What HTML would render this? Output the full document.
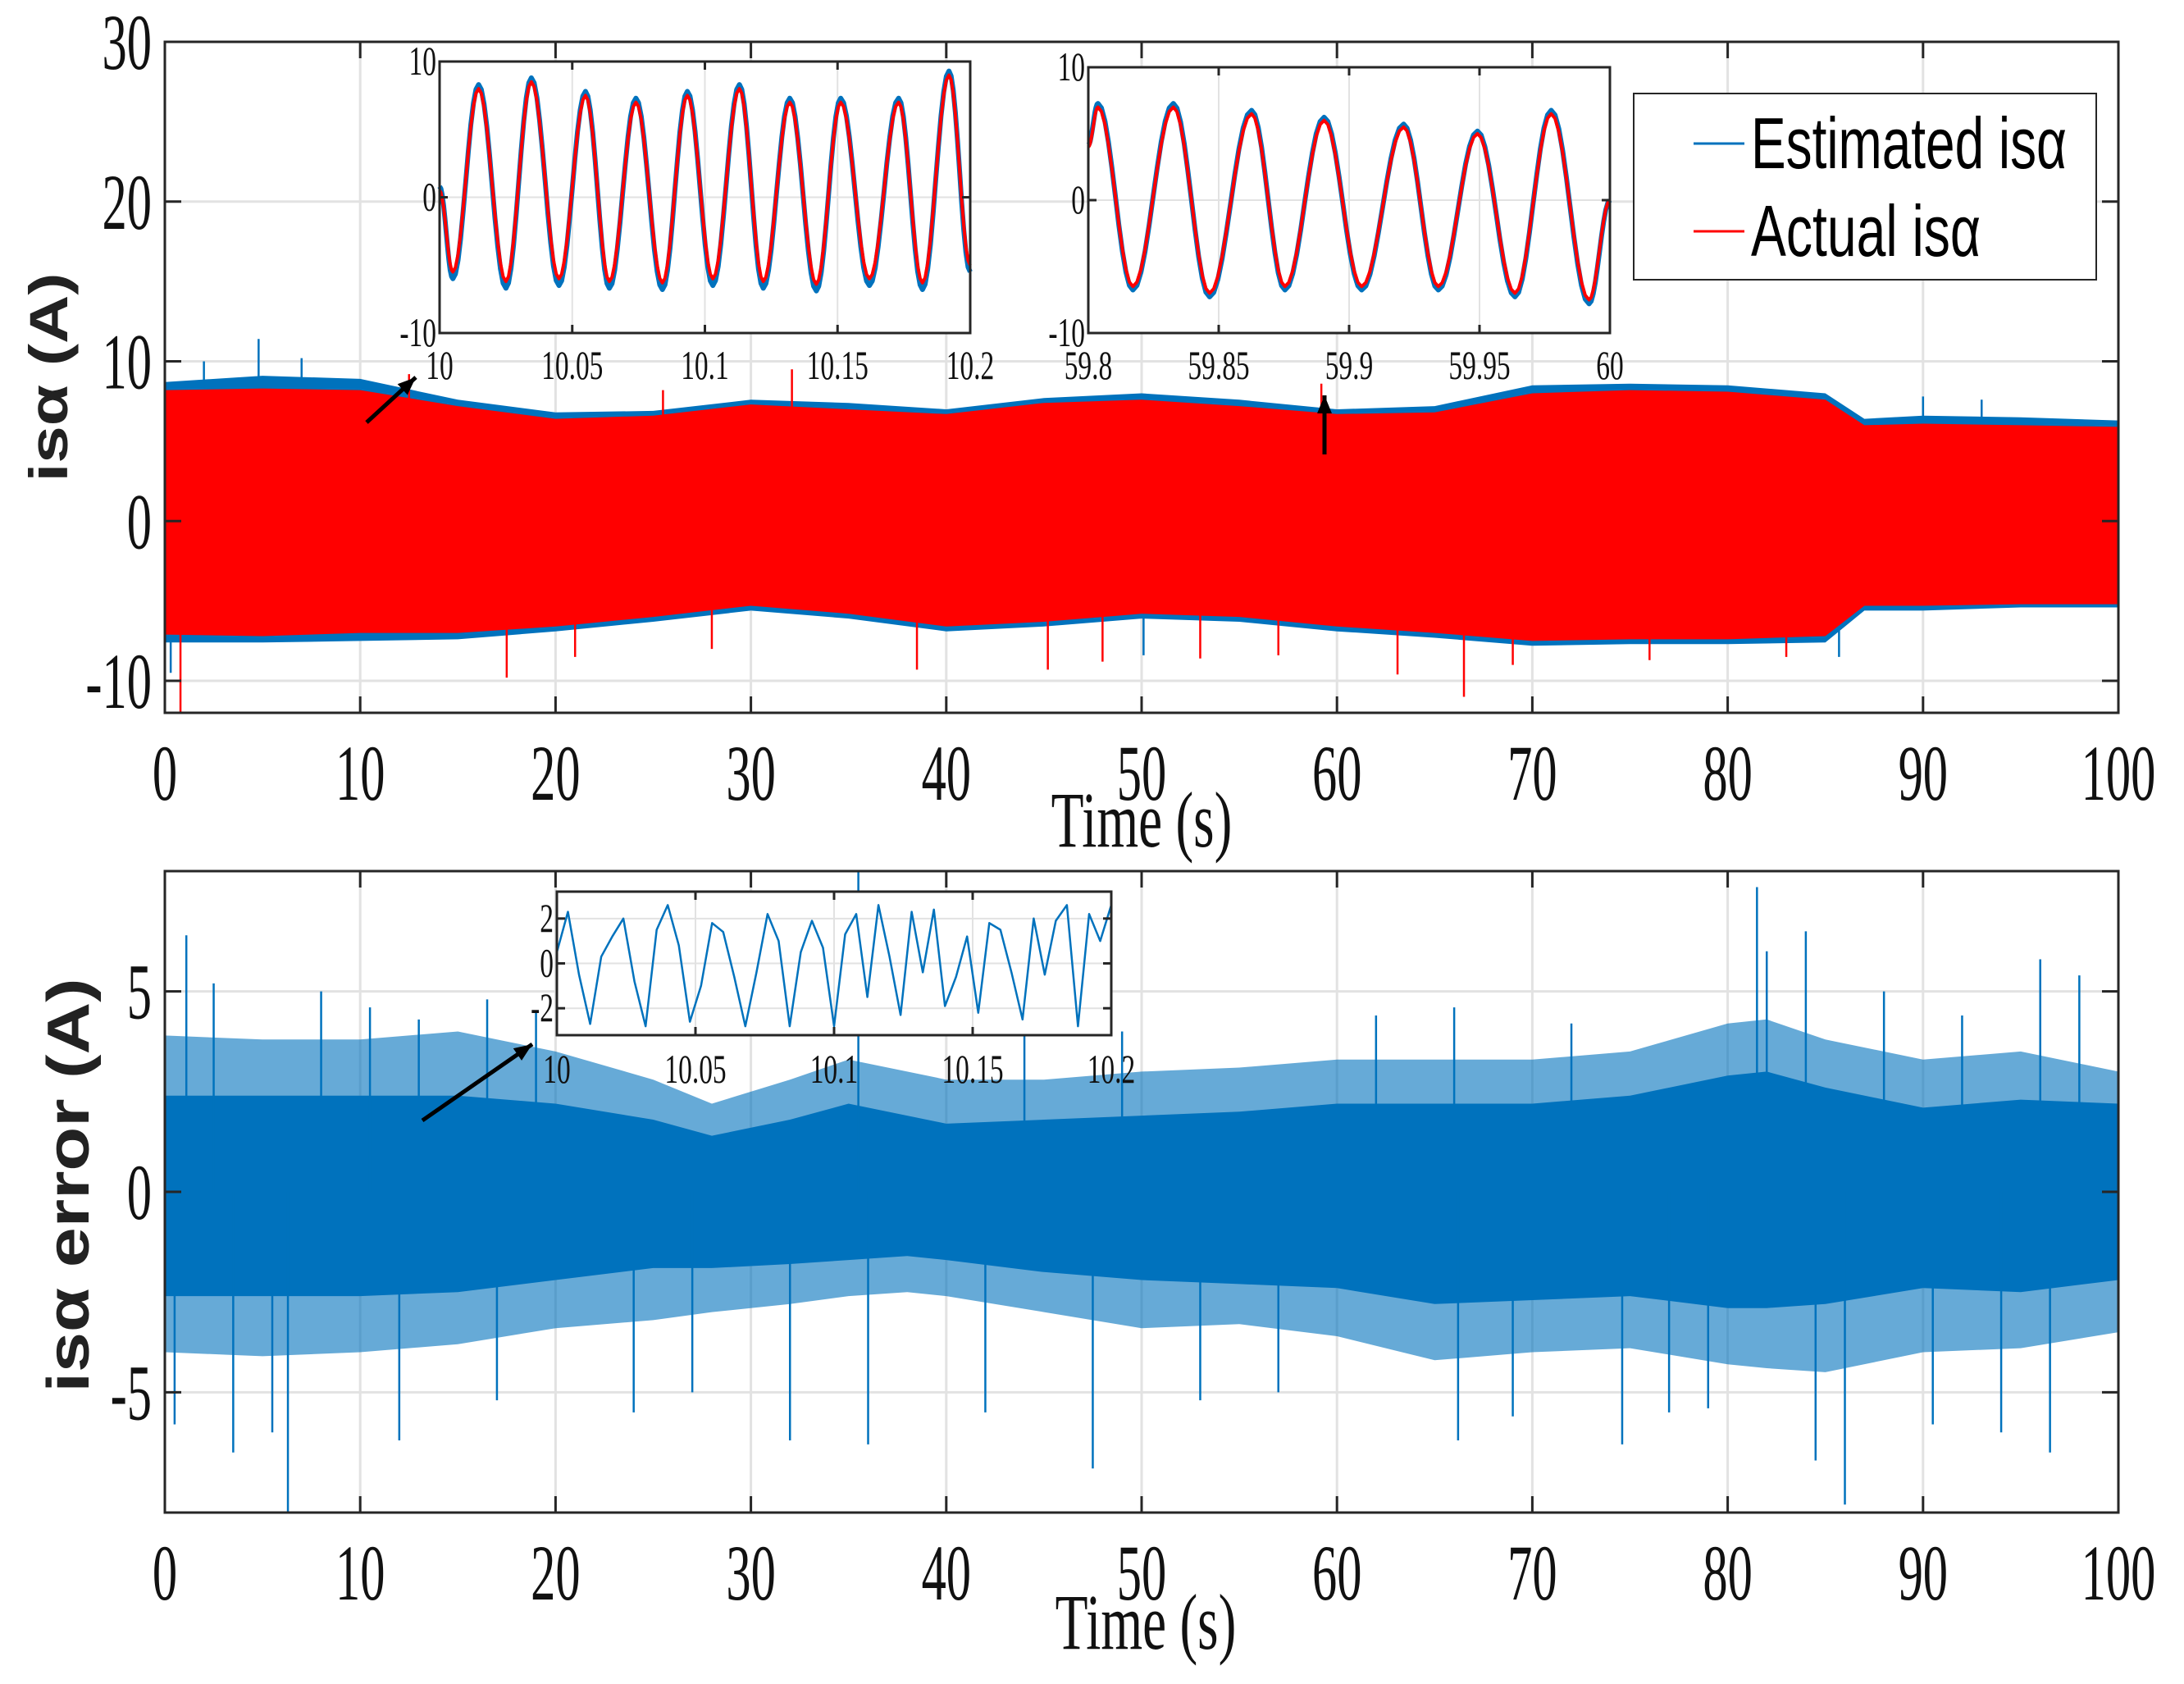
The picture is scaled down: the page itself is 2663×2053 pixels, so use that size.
<!DOCTYPE html>
<html><head><meta charset="utf-8"><style>
html,body{margin:0;padding:0;background:#fff;}
svg{display:block;}
</style></head><body>
<svg id="chart" xmlns="http://www.w3.org/2000/svg" width="2663" height="2053" viewBox="0 0 2663 2053">
<rect width="2663" height="2053" fill="#fff"/>
<g id="topPlot"></g>
<g id="botPlot"></g>
</svg>
<script>
// ---------- data ----------
const xTicks = [0,10,20,30,40,50,60,70,80,90,100];
const topYTicks = [-10,0,10,20,30];
const botYTicks = [-5,0,5];
const topEnvT = [0,5,10,15,20,25,30,35,40,45,50,55,60,65,70,75,80,85,87,90,95,100];
const redUpper = [8.2,8.3,8.2,7.2,6.4,6.6,7.3,7.0,6.7,7.4,7.6,7.2,6.7,6.8,8.0,8.2,8.1,7.6,6.0,6.1,6.0,5.9];
const redLower = [-7.1,-7.2,-7.0,-7.0,-6.6,-6.0,-5.3,-5.8,-6.6,-6.3,-5.8,-6.0,-6.6,-7.0,-7.5,-7.4,-7.4,-7.2,-5.3,-5.3,-5.2,-5.2];
const blueUpper = [8.7,9.1,8.9,7.6,6.8,6.9,7.6,7.4,7.0,7.7,8.0,7.6,7.0,7.2,8.5,8.6,8.5,8.0,6.4,6.6,6.5,6.3];
const blueLower = [-7.6,-7.6,-7.5,-7.4,-6.9,-6.3,-5.6,-6.1,-6.9,-6.6,-6.1,-6.3,-6.9,-7.3,-7.8,-7.7,-7.7,-7.6,-5.6,-5.6,-5.4,-5.4];
const redSpikeT = [0.8,17.5,38.5,45.2,63.1,66.5,32.1,59.2,12.5,25.5,53,21,28,48,57,69,76,83];
const redSpikeV = [-12,-9.8,-9.3,-9.3,-9.6,-11,9.5,8.6,9.2,8.2,-8.6,-8.5,-8.0,-8.8,-8.4,-9.0,-8.7,-8.5];
const blueSpikeT = [4.8,0.3,85.7,50.1,7,2,90,93];
const blueSpikeV = [11.4,-9.5,-8.5,-8.4,10.2,10.0,7.8,7.6];
const in1T = [10.0,10.005,10.0147,10.025,10.0346,10.045,10.055,10.064,10.074,10.084,10.0934,10.103,10.113,10.122,10.132,10.142,10.1512,10.162,10.173,10.182,10.192,10.2];
const in1V = [0.5,-5.5,8.0,-6.2,8.5,-6.0,7.5,-6.2,7.0,-6.3,7.5,-6.0,8.0,-6.2,7.0,-6.4,7.0,-6.0,7.0,-6.3,9.0,-5.0];
const in2T = [59.8,59.8037,59.8171,59.8326,59.8465,59.8626,59.8754,59.8904,59.9048,59.9209,59.9342,59.9492,59.9636,59.9775,59.992,60.0];
const in2V = [4.0,7.0,-6.5,7.0,-7.0,6.5,-6.5,6.0,-6.5,5.5,-6.5,5.0,-7.0,6.5,-7.5,0.0];
const botEnvT = [0,5,10,15,20,25,28,32,35,38,40,45,50,55,60,65,70,75,80,82,85,90,95,100];
const coreUpper = [2.4,2.4,2.4,2.4,2.2,1.8,1.4,1.8,2.2,1.9,1.7,1.8,1.9,2.0,2.2,2.2,2.2,2.4,2.9,3.0,2.6,2.1,2.3,2.2];
const coreLower = [-2.6,-2.6,-2.6,-2.5,-2.2,-1.9,-1.9,-1.8,-1.7,-1.6,-1.7,-2.0,-2.2,-2.3,-2.4,-2.8,-2.7,-2.6,-2.9,-2.9,-2.8,-2.4,-2.5,-2.2];
const fringeUpper = [3.9,3.8,3.8,4.0,3.5,2.8,2.2,2.8,3.3,3.0,2.8,2.8,3.0,3.1,3.3,3.3,3.3,3.5,4.2,4.3,3.8,3.3,3.5,3.0];
const fringeLower = [-4.0,-4.1,-4.0,-3.8,-3.4,-3.2,-3.0,-2.8,-2.6,-2.5,-2.6,-3.0,-3.4,-3.3,-3.6,-4.2,-4.0,-3.9,-4.3,-4.4,-4.5,-4.0,-3.9,-3.5];
const errSpikeT = [1.1,8.0,13.0,19.0,35.5,49.0,66.0,81.5,82.0,84.0,96.0,6.3,3.5,12.0,24.0,32.0,36.0,47.5,66.2,74.6,86.0,84.5,96.5,77.0,42.0,57.0,0.5,2.5,10.5,16.5,44,62,72,88,92,98,5.5,17,27,53,69,79,90.5,94];
const errSpikeV = [6.4,5.0,4.3,4.5,8.0,4.0,4.6,7.6,6.0,6.5,5.8,-8.0,-6.5,-6.2,-5.5,-6.2,-6.3,-6.9,-6.2,-6.3,-7.8,-6.7,-6.5,-5.5,-5.5,-5.0,-5.8,5.2,4.6,4.8,4.0,4.4,4.2,5.0,4.4,5.4,-6.0,-5.2,-5.0,-5.2,-5.6,-5.4,-5.8,-6.0];
const in3T = [10.0,10.004,10.008,10.012,10.016,10.02,10.024,10.028,10.032,10.036,10.04,10.044,10.048,10.052,10.056,10.06,10.064,10.068,10.072,10.076,10.08,10.084,10.088,10.092,10.096,10.1,10.104,10.108,10.112,10.116,10.12,10.124,10.128,10.132,10.136,10.14,10.144,10.148,10.152,10.156,10.16,10.164,10.168,10.172,10.176,10.18,10.184,10.188,10.192,10.196,10.2];
const in3V = [0.5,2.3,-0.5,-2.7,0.3,1.2,2.0,-0.8,-2.8,1.5,2.6,0.8,-2.6,-1.0,1.8,1.4,-0.6,-2.8,-0.4,2.2,1.0,-2.8,0.5,1.9,0.7,-2.8,1.3,2.2,-1.5,2.6,0.3,-2.3,2.3,-0.4,2.4,-1.9,-0.6,1.2,-2.2,1.8,1.5,-0.4,-2.5,2.0,-0.5,1.9,2.6,-2.8,2.2,1.0,2.6];

// ---------- helpers ----------
const NS='http://www.w3.org/2000/svg';
function mk(parent,tag,attrs){const e=document.createElementNS(NS,tag);for(const k in attrs)e.setAttribute(k,attrs[k]);parent.appendChild(e);return e;}
function scale(d0,d1,r0,r1){return v=>r0+(v-d0)/(d1-d0)*(r1-r0);}
function txt(parent,x,y,s,size,anchor,sx,family,weight){
  const t=mk(parent,'text',{x:0,y:0,'font-size':size,'text-anchor':anchor,'font-family':family||'"Liberation Serif", serif','font-weight':weight||'normal',fill:'#111',transform:`translate(${x},${y}) scale(${sx},1)`});
  t.textContent=s;return t;
}
function band(parent,T,U,L,xs,ys,color,op,name){
  let d='';
  T.forEach((t,i)=>{d+=(i?'L':'M')+xs(t).toFixed(1)+','+ys(U[i]).toFixed(1);});
  for(let i=T.length-1;i>=0;i--)d+='L'+xs(T[i]).toFixed(1)+','+ys(L[i]).toFixed(1);
  const p=mk(parent,'path',{d:d+'Z',fill:color,'fill-opacity':op});
  
  
}
function spikes(parent,T,V,xs,ys,color,name){
  T.forEach((t,i)=>{
    const l=mk(parent,'line',{x1:xs(t),x2:xs(t),y1:ys(0),y2:ys(V[i]),stroke:color,'stroke-width':2.5});
    
    
  });
}
function curve(parent,T,V,xs,ys,color,w,name){
  let d='';
  T.forEach((t,i)=>{d+=(i?'L':'M')+xs(t).toFixed(1)+','+ys(V[i]).toFixed(1);});
  const p=mk(parent,'path',{d:d,fill:'none',stroke:color,'stroke-width':w,'stroke-linejoin':'round'});
  
  
}
function smoothCurve(parent,T,V,xs,ys,color,w,name){
  let d='';
  for(let i=0;i<T.length-1;i++){
    for(let k=0;k<=10;k++){
      const f=k/10,g=(1-Math.cos(Math.PI*f))/2;
      const t=T[i]+(T[i+1]-T[i])*f, v=V[i]+(V[i+1]-V[i])*g;
      d+=(d?'L':'M')+xs(t).toFixed(1)+','+ys(v).toFixed(1);
    }
  }
  const p=mk(parent,'path',{d:d,fill:'none',stroke:color,'stroke-width':w,'stroke-linejoin':'round'});
  
  
}
function axesFrame(parent,x0,x1,y0,y1,xs,ys,xt,yt,gridW,name){
  xt.forEach(t=>{const l=mk(parent,'line',{x1:xs(t),x2:xs(t),y1:y0,y2:y1,stroke:'#e2e2e2','stroke-width':gridW});
    });
  yt.forEach(t=>{const l=mk(parent,'line',{x1:x0,x2:x1,y1:ys(t),y2:ys(t),stroke:'#e2e2e2','stroke-width':gridW});
    });
}
function frame(parent,x0,x1,y0,y1,xs,ys,xt,yt,tick,sw,name){
  const r=mk(parent,'rect',{x:x0,y:y0,width:x1-x0,height:y1-y0,fill:'none',stroke:'#262626','stroke-width':sw});
  
  xt.forEach(t=>{mk(parent,'line',{x1:xs(t),x2:xs(t),y1:y1,y2:y1-tick,stroke:'#262626','stroke-width':sw});
    mk(parent,'line',{x1:xs(t),x2:xs(t),y1:y0,y2:y0+tick,stroke:'#262626','stroke-width':sw});});
  yt.forEach(t=>{mk(parent,'line',{x1:x0,x2:x0+tick,y1:ys(t),y2:ys(t),stroke:'#262626','stroke-width':sw});
    mk(parent,'line',{x1:x1,x2:x1-tick,y1:ys(t),y2:ys(t),stroke:'#262626','stroke-width':sw});});
}
function arrow(parent,x1,y1,x2,y2,name){
  const g=mk(parent,'g',{});
  
  mk(g,'line',{x1:x1,y1:y1,x2:x2,y2:y2,stroke:'#000','stroke-width':5});
  const a=Math.atan2(y2-y1,x2-x1),L=22,W=9;
  const bx=x2-L*Math.cos(a),by=y2-L*Math.sin(a);
  mk(g,'polygon',{points:`${x2},${y2} ${bx-W*Math.sin(a)},${by+W*Math.cos(a)} ${bx+W*Math.sin(a)},${by-W*Math.cos(a)}`,fill:'#000'});
}

const BLUE='#0072BD', RED='#FF0000';
const topG=document.getElementById('topPlot'), botG=document.getElementById('botPlot');

// ---------- top plot ----------
{
  const X0=201,X1=2583,Y0=51,Y1=869;
  const xs=scale(0,100,X0,X1), ys=scale(-12,30,Y1,Y0);
  axesFrame(topG,X0,X1,Y0,Y1,xs,ys,xTicks,topYTicks,3,'top');
  const d=mk(topG,'g',{});
  band(d,topEnvT,blueUpper,blueLower,xs,ys,BLUE,1,'estimated-isa-band');
  spikes(d,blueSpikeT,blueSpikeV,xs,ys,BLUE,'estimated-isa-spike');
  band(d,topEnvT,redUpper,redLower,xs,ys,RED,1,'actual-isa-band');
  spikes(d,redSpikeT,redSpikeV,xs,ys,RED,'actual-isa-spike');
  frame(topG,X0,X1,Y0,Y1,xs,ys,xTicks,topYTicks,20,3,'top');
  xTicks.forEach(t=>{const e=txt(topG,xs(t),975,String(t),96,'middle',0.63);});
  topYTicks.forEach(t=>{const e=txt(topG,185,ys(t)+33,String(t),96,'end',0.63);});
  const xl=txt(topG,1392,1032,'Time (s)',96,'middle',0.68);
  const yl=mk(topG,'text',{x:0,y:0,'font-size':66,'font-weight':'bold','font-family':'"Liberation Sans", sans-serif','text-anchor':'middle',fill:'#222',textLength:255,lengthAdjust:'spacingAndGlyphs',transform:'translate(82,460) rotate(-90)'});
  yl.textContent='isα (A)';

  const g1=mk(topG,'g',{});
  const a0=536,a1=1183,b0=75,b1=406;
  mk(g1,'rect',{x:a0,y:b0,width:a1-a0,height:b1-b0,fill:'#fff'});
  const ix=scale(10,10.2,a0,a1), iy=scale(-10,10,b1,b0);
  const it1=[10,10.05,10.1,10.15,10.2], iyt=[-10,0,10];
  axesFrame(g1,a0,a1,b0,b1,ix,iy,it1,iyt,2,'inset1');
  smoothCurve(g1,in1T,in1V.map(v=>v>0?v+0.3:v-0.5),ix,iy,BLUE,6,'inset1-estimated');
  smoothCurve(g1,in1T,in1V,ix,iy,RED,4,'inset1-actual');
  frame(g1,a0,a1,b0,b1,ix,iy,it1,iyt,10,3,'inset1');
  ['10','10.05','10.1','10.15','10.2'].forEach((s,i)=>{const e=txt(g1,ix(it1[i]),462,s,50,'middle',0.67);});
  iyt.forEach(t=>{const e=txt(g1,a0-4,iy(t)+16,String(t),50,'end',0.67);});

  const g2=mk(topG,'g',{});
  const c0=1327,c1=1963,e0=82,e1=406;
  mk(g2,'rect',{x:c0,y:e0,width:c1-c0,height:e1-e0,fill:'#fff'});
  const jx=scale(59.8,60,c0,c1), jy=scale(-10,10,e1,e0);
  const it2=[59.8,59.85,59.9,59.95,60];
  axesFrame(g2,c0,c1,e0,e1,jx,jy,it2,iyt,2,'inset2');
  smoothCurve(g2,in2T,in2V.map(v=>v*1.04),jx,jy,BLUE,6,'inset2-estimated');
  smoothCurve(g2,in2T,in2V,jx,jy,RED,4,'inset2-actual');
  frame(g2,c0,c1,e0,e1,jx,jy,it2,iyt,10,3,'inset2');
  ['59.8','59.85','59.9','59.95','60'].forEach((s,i)=>{const e=txt(g2,jx(it2[i]),462,s,50,'middle',0.67);});
  iyt.forEach(t=>{const e=txt(g2,c0-4,jy(t)+16,String(t),50,'end',0.67);});

  const lg=mk(topG,'g',{});
  mk(lg,'rect',{x:1992,y:114,width:564,height:227,fill:'#fff',stroke:'#262626','stroke-width':2});
  const e1g=mk(lg,'g',{});
  mk(e1g,'line',{x1:2065,x2:2127,y1:175,y2:175,stroke:BLUE,'stroke-width':3});
  const t1=mk(e1g,'text',{x:2135,y:205,'font-size':88,'font-family':'"Liberation Sans", sans-serif',fill:'#000',textLength:385,lengthAdjust:'spacingAndGlyphs'});t1.textContent='Estimated isα';
  const e2g=mk(lg,'g',{});
  mk(e2g,'line',{x1:2065,x2:2127,y1:282,y2:282,stroke:RED,'stroke-width':3});
  const t2=mk(e2g,'text',{x:2135,y:312,'font-size':88,'font-family':'"Liberation Sans", sans-serif',fill:'#000',textLength:280,lengthAdjust:'spacingAndGlyphs'});t2.textContent='Actual isα';

  arrow(topG,447,515,507,460,'arrow-to-inset1');
  arrow(topG,1615,554,1615,482,'arrow-to-inset2');
}

// ---------- bottom plot ----------
{
  const X0=201,X1=2583,Y0=1062,Y1=1844;
  const xs=scale(0,100,X0,X1), ys=scale(-8,8,Y1,Y0);
  axesFrame(botG,X0,X1,Y0,Y1,xs,ys,xTicks,botYTicks,3,'bottom');
  const d=mk(botG,'g',{});
  band(d,botEnvT,fringeUpper,fringeLower,xs,ys,BLUE,0.6,'error-fringe-band');
  band(d,botEnvT,coreUpper,coreLower,xs,ys,BLUE,1,'error-core-band');
  spikes(d,errSpikeT,errSpikeV,xs,ys,BLUE,'error-spike');
  frame(botG,X0,X1,Y0,Y1,xs,ys,xTicks,botYTicks,20,3,'bottom');
  xTicks.forEach(t=>{const e=txt(botG,xs(t),1950,String(t),96,'middle',0.63);});
  botYTicks.forEach(t=>{const e=txt(botG,185,ys(t)+33,String(t),96,'end',0.63);});
  const xl=txt(botG,1397,2010,'Time (s)',96,'middle',0.68);
  const yl=mk(botG,'text',{x:0,y:0,'font-size':72,'font-weight':'bold','font-family':'"Liberation Sans", sans-serif','text-anchor':'middle',fill:'#222',textLength:505,lengthAdjust:'spacingAndGlyphs',transform:'translate(108,1445) rotate(-90)'});
  yl.textContent='isα error (A)';

  const g3=mk(botG,'g',{});
  const a0=679,a1=1355,b0=1087,b1=1262;
  mk(g3,'rect',{x:a0,y:b0,width:a1-a0,height:b1-b0,fill:'#fff'});
  const ix=scale(10,10.2,a0,a1), iy=scale(-3.2,3.2,b1,b0);
  const it=[10,10.05,10.1,10.15,10.2], iyt=[-2,0,2];
  axesFrame(g3,a0,a1,b0,b1,ix,iy,it,iyt,2,'inset3');
  curve(g3,in3T,in3V,ix,iy,BLUE,2.5,'inset3-error');
  frame(g3,a0,a1,b0,b1,ix,iy,it,iyt,10,3,'inset3');
  ['10','10.05','10.1','10.15','10.2'].forEach((s,i)=>{const e=txt(g3,ix(it[i]),1320,s,50,'middle',0.67);});
  iyt.forEach(t=>{const e=txt(g3,a0-4,iy(t)+16,String(t),50,'end',0.67);});
  arrow(botG,515,1366,649,1273,'arrow-to-inset3');
}
</script>
</body></html>
